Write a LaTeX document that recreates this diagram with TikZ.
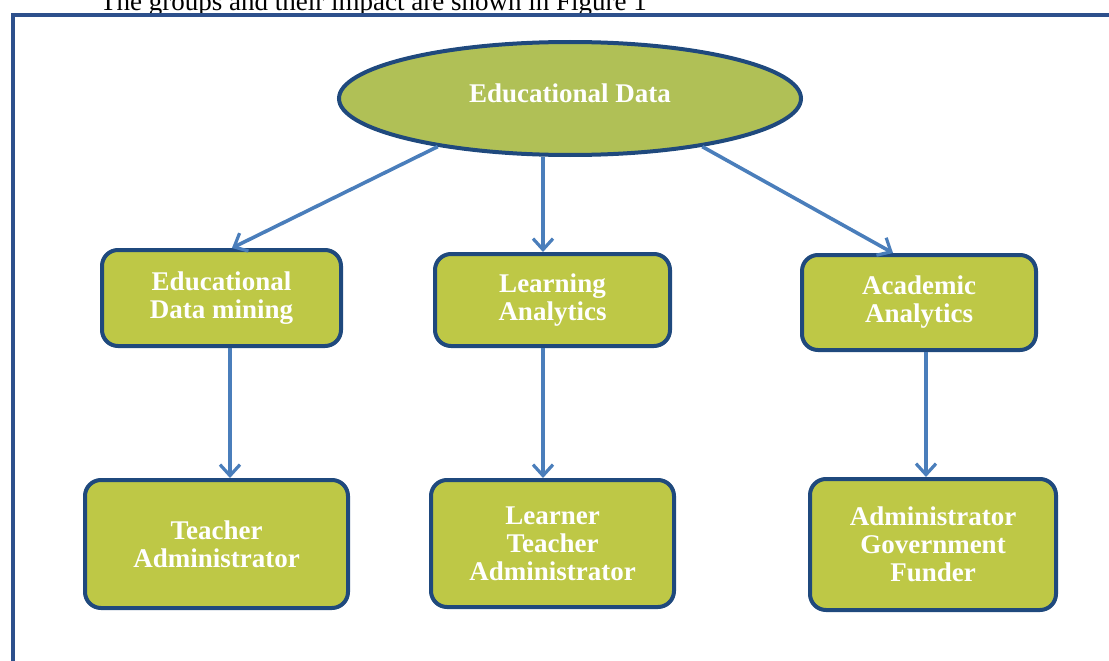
\documentclass[tikz,border=0pt]{standalone}
\usepackage{fontspec}
\setmainfont{Liberation Serif}
\usetikzlibrary{arrows.meta,calc,shapes.geometric}
\definecolor{boxfill}{RGB}{190,200,70}
\definecolor{ellfill}{RGB}{176,192,86}
\definecolor{edgeblue}{RGB}{31,73,125}
\definecolor{arrowblue}{RGB}{74,126,187}
\definecolor{framec}{RGB}{45,80,140}
\begin{document}
\begin{tikzpicture}[x=1pt,y=-1pt,
  boxnode/.style={draw=edgeblue,line width=4pt,fill=boxfill,rounded corners=16pt,
    inner sep=0pt,text=white,font=\bfseries\fontsize{27}{28}\selectfont,align=center},
  ellnode/.style={ellipse,draw=edgeblue,line width=4pt,fill=ellfill,inner sep=0pt},
  titletext/.style={text=white,font=\bfseries\fontsize{27}{28}\selectfont,inner sep=0pt},
  captext/.style={text=black,font=\fontsize{27}{28}\selectfont,inner sep=0pt},
  arr/.style={draw=arrowblue,line width=3.6pt,-{Straight Barb[length=11pt,width=20pt,line width=3.2pt]}},
  framel/.style={draw=framec,line width=4.5pt}
]
\clip (0,0) rectangle (1109,661);
\useasboundingbox (0,0) rectangle (1109,661);

% caption cut at top
\node[captext,anchor=base west] (cap) at (100,11) {The groups and their impact are shown in Figure 1};

% frame lines
\coordinate (ftl) at (13,15);
\coordinate (ftr) at (1115,15);
\coordinate (fbl) at (13,670);
\draw[framel] (fbl) -- (ftl) -- (ftr);

% top ellipse
\node[ellnode,minimum width=462pt,minimum height=113pt] (ed) at (570,98.5) {};
\node[titletext] (edtxt) at (570,93) {Educational Data};

% middle row
\node[boxnode,minimum width=239pt,minimum height=96pt] (edm) at (221.5,298) {Educational\\Data mining};
\node[boxnode,minimum width=235pt,minimum height=92pt] (la) at (552.5,300) {Learning\\Analytics};
\node[boxnode,minimum width=234pt,minimum height=95pt] (aa) at (919,302.5) {Academic\\Analytics};

% bottom row
\node[boxnode,minimum width=263pt,minimum height=128pt] (ta) at (216.5,544) {Teacher\\Administrator};
\node[boxnode,minimum width=243pt,minimum height=127pt] (lta) at (552.5,543.5) {Learner\\Teacher\\Administrator};
\node[boxnode,minimum width=246pt,minimum height=131pt] (agf) at (933,544.5) {Administrator\\Government\\Funder};

% arrows from ellipse
\draw[arr] (ed.200) -- ($(edm.north)+(10.5,0)$);
\coordinate (lax) at ($(la.north)+(-9.5,0)$);
\draw[arr] (ed.south -| lax) -- (lax);
\draw[arr] (ed.-20) -- ($(aa.north)+(-26,0)$);

% vertical arrows
\coordinate (a1) at ($(edm.south)+(8.5,0)$);
\draw[arr] (a1) -- (a1 |- ta.north);
\coordinate (a2) at ($(la.south)+(-9.5,0)$);
\draw[arr] (a2) -- (a2 |- lta.north);
\coordinate (a3) at ($(aa.south)+(7,0)$);
\draw[arr] (a3) -- (a3 |- agf.north);
\end{tikzpicture}
\end{document}
